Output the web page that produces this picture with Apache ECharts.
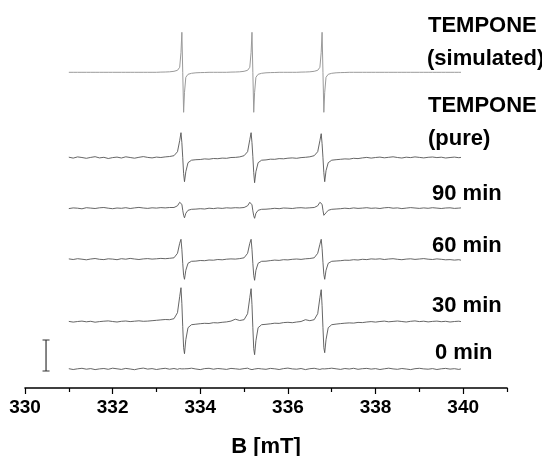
<!DOCTYPE html>
<html>
<head>
<meta charset="utf-8">
<script src="https://cdn.jsdelivr.net/npm/echarts@6/dist/echarts.min.js"></script>
<style>
html, body { margin: 0; padding: 0; background: #fff; }
#epr { width: 542px; height: 456px; }
</style>
</head>
<body>
<div id="epr"></div>
<script>
// field axis (mT), sampled densely around the three nitrogen lines
var fieldGrid = [
  331.0, 331.1, 331.2, 331.3, 331.4, 331.5, 331.6, 331.7, 331.8, 331.9,
  332.0, 332.1, 332.2, 332.3, 332.4, 332.5, 332.6, 332.7, 332.8, 332.9,
  333.0, 333.1, 333.2, 333.3,
  333.40, 333.48, 333.53, 333.56, 333.58, 333.60, 333.62, 333.64, 333.67, 333.72, 333.80,
  333.9, 334.0, 334.1, 334.2, 334.3, 334.4, 334.5, 334.6, 334.7, 334.8, 334.9,
  335.00, 335.08, 335.13, 335.16, 335.18, 335.20, 335.22, 335.24, 335.27, 335.32, 335.40,
  335.5, 335.6, 335.7, 335.8, 335.9, 336.0, 336.1, 336.2, 336.3, 336.4, 336.5,
  336.60, 336.68, 336.73, 336.76, 336.78, 336.80, 336.82, 336.84, 336.87, 336.92, 337.00,
  337.1, 337.2, 337.3, 337.4, 337.5, 337.6, 337.7, 337.8, 337.9, 338.0,
  338.1, 338.2, 338.3, 338.4, 338.5, 338.6, 338.7, 338.8, 338.9, 339.0,
  339.1, 339.2, 339.3, 339.4, 339.5, 339.6, 339.7, 339.8, 339.9, 339.95
];

var majorTicks = [330, 332, 334, 336, 338, 340];
var minorTicks = [331, 333, 335, 337, 339, 341];

var traceNames = ['TEMPONE (simulated)', 'TEMPONE (pure)', '90 min', '60 min', '30 min', '0 min'];
// vertical offset of each spectrum (arbitrary units)
var baselines = [315.7, 230.3, 179.7, 128.7, 66.3, 19];

var simulated = [
  0, 0, 0, 0, 0, 0, 0, 0, 0, 0, 0, 0, 0, 0, 0, 0, 0, 0, 0, 0, 0, 0.2, 0.3, 0.5,
  1, 2, 5, 20, 40, 0, -40, -20, -5, -2, -1,
  -0.5, -0.3, -0.2, 0, 0, 0, 0, 0, 0.2, 0.3, 0.5,
  1, 2, 5, 20, 40, 0, -40, -20, -5, -2, -1,
  -0.5, -0.3, -0.2, 0, 0, 0, 0, 0, 0.2, 0.3, 0.5,
  1, 2, 5, 20, 40, 0, -40, -20, -5, -2, -1,
  -0.5, -0.3, -0.2, 0, 0, 0, 0, 0, 0, 0,
  0, 0, 0, 0, 0, 0, 0, 0, 0, 0,
  0, 0, 0, 0, 0, 0, 0, 0, 0, 0
];

var pure = [
  0.5, -0.4, 0.8, 0.2, -0.6, 0.3, 1.0, -0.2, 0.4, -0.8, 0.1, 0.6, -0.3, 0.9, 0.2, -0.5, 0.4, 1.1, 0.3, -0.2, 0.6, 0.2, 0.8, 1.2,
  2, 6, 17, 25, 15, 0, -16, -24, -14, -5, -2.5,
  -2, -1.8, -1.2, -1.5, -0.8, -1.0, -0.4, -0.6, 0.2, 0.3, 0.8,
  2, 6, 18, 25, 15, 1, -15, -25, -14, -5, -2.5,
  -2.2, -1.5, -1.6, -0.9, -1.1, -0.5, -0.2, -0.6, 0.1, 0.4, 0.9,
  2, 6, 17, 24, 14, 0, -15, -24, -13, -5, -2.5,
  -2, -1.6, -1.2, -1.4, -0.6, -0.9, -0.2, 0.3, -0.4, 0.2,
  0.6, -0.1, 0.4, 0.9, 0.2, -0.3, 0.5, 0.1, 0.8, 0.3,
  -0.2, 0.4, 0.7, 0.1, 0.5, -0.3, 0.2, 0.6, 0.0, 0.3
];

var min90 = [
  -0.3, 0.4, 0.1, -0.5, 0.6, 0.2, -0.2, 0.5, 0.8, 0.1, -0.4, 0.3, 0.0, 0.6, -0.2, 0.4, 0.9, 0.3, -0.1, 0.5, 0.2, 0.7, 0.4, 0.8,
  0.8, 2.5, 6, 8, 4, -2, -7, -9.5, -5, -2, -1,
  -0.8, -0.4, -0.7, 0.1, -0.3, 0.3, -0.1, 0.5, 0.2, 0.6, 0.4,
  0.8, 2.5, 6, 7.5, 3.5, -2.5, -7.5, -10, -5, -2, -1,
  -0.9, -0.5, 0.0, -0.4, 0.3, 0.1, -0.2, 0.4, 0.6, 0.2, 0.5,
  0.8, 2.5, 6, 8, 4, -2, -7, -9, -4.5, -2, -1,
  -0.7, -0.4, 0.1, -0.3, 0.4, -0.1, 0.2, 0.6, 0.0, 0.3,
  -0.2, 0.5, 0.8, 0.1, 0.4, -0.3, 0.2, 0.7, 0.3, -0.1,
  0.4, 0.0, 0.6, 0.2, -0.2, 0.3, 0.5, -0.1, 0.2, 0.4
];

var min60 = [
  0.4, -0.2, 0.6, 0.1, -0.5, 0.3, 0.8, 0.0, -0.3, 0.5, 0.2, -0.4, 0.6, 0.1, 0.9, 0.3, -0.2, 0.4, 0.7, 0.2, 0.5, 0.9, 0.6, 1.0,
  1.5, 6, 16, 20, 10, -4, -16, -20, -11, -4, -2,
  -1.8, -1.2, -1.4, -0.7, -0.9, -0.2, -0.5, 0.1, 0.4, 0.2, 0.7,
  1.5, 6, 16, 20, 10, -4, -16, -21, -11, -4, -2,
  -1.9, -1.3, -0.8, -1.1, -0.4, -0.6, 0.0, 0.3, -0.1, 0.5, 0.8,
  1.5, 6, 15, 20, 11, -3, -15, -20, -11, -4, -2,
  -1.7, -1.4, -0.9, -1.0, -0.4, -0.7, 0.0, -0.3, 0.4, 0.1,
  0.5, -0.2, 0.3, 0.6, 0.0, -0.4, 0.2, 0.5, -0.1, 0.3,
  0.7, 0.1, -0.2, 0.4, 0.0, -0.5, -0.3, -0.8, -0.4, -0.9
];

var min30 = [
  0.3, -0.4, 0.2, 0.6, -0.1, 0.4, -0.5, 0.1, 0.5, 0.8, 0.2, -0.3, 0.4, 0.7, 0.1, 0.5, 0.9, 0.4, 0.6, 1.0, 1.4, 1.8, 2.2, 2.0,
  3, 9, 25, 34, 18, -5, -26, -32, -18, -6, -3,
  -2.5, -2, -1.6, -1.8, -1.0, -1.2, -0.6, -0.2, 0.6, 2.5, 1.2,
  2, 8, 24, 33, 17, -6, -27, -33, -19, -6, -3,
  -2.6, -2.1, -1.5, -1.7, -0.9, -0.6, -1.0, -0.3, 0.2, 2.0, 1.0,
  2, 8, 24, 32, 16, -6, -26, -31, -18, -6, -3,
  -2.4, -1.9, -1.5, -1.2, -1.4, -0.7, -0.9, -0.3, 0.1, -0.4,
  0.2, 0.6, -0.1, 0.3, 0.7, 0.2, -0.3, 0.4, 0.8, 0.1,
  0.5, -0.2, 0.3, 0.6, 0.0, 0.4, -0.3, 0.2, 0.5, 0.1
];

var min0 = [
  0.3, -0.5, 0.2, 0.7, -0.2, 0.4, -0.6, 0.1, 0.5, -0.3, 0.8, 0.2, -0.4, 0.6, 0.0, -0.7, 0.3, 0.9, -0.1, 0.4, -0.5, 0.2, 0.7, -0.2,
  0.5, -0.3, 0.4, 0.9, 0.1, -0.4, 0.6, 0.2, -0.5, 0.3, 0.8,
  0.0, -0.6, 0.4, 0.7, -0.2, 0.5, 0.1, -0.4, 0.6, 0.2, -0.3,
  0.4, 0.8, -0.1, 0.3, -0.6, 0.2, 0.7, 0.0, -0.4, 0.5, 0.1,
  -0.3, 0.6, 0.2, -0.5, 0.4, 0.9, 0.1, -0.2, 0.5, -0.6, 0.3,
  0.7, 0.0, -0.4, 0.5, 0.2, -0.3, 0.6, 0.1, -0.5, 0.4, 0.8,
  0.2, -0.4, 0.5, 0.0, 0.7, -0.3, 0.3, 0.6, -0.1, 0.4,
  -0.5, 0.2, 0.8, 0.1, -0.3, 0.5, 0.0, -0.6, 0.3, 0.7,
  0.1, -0.2, 0.4, -0.5, 0.2, 0.6, -0.1, 0.3, -0.4, 0.1
];

var traces = [simulated, pure, min90, min60, min30, min0];

// intensity scale bar (I-beam) at the left
var scaleBarField = [330.40, 330.56, 330.48, 330.48, 330.40, 330.56];
var scaleBarY = [48, 48, 48, 17, 17, 17];

var labelTexts = ['TEMPONE', '(simulated)', 'TEMPONE', '(pure)', '90 min', '60 min', '30 min', '0 min'];
var labelPos = [[428, 25], [427, 58], [428, 105], [428, 138], [432, 193], [432, 245], [432, 305], [435, 352]];

var FONT = "'Liberation Sans', Arial, Helvetica, sans-serif";

var chart = echarts.init(document.getElementById('epr'));

var series = traces.map(function (vals, i) {
  return {
    name: traceNames[i],
    type: 'line',
    symbol: 'none',
    silent: true,
    lineStyle: { color: i === 0 ? '#9a9a9a' : '#555555', width: i === 0 ? 1 : 0.9 },
    data: fieldGrid.map(function (b, k) { return [b, baselines[i] + vals[k]]; })
  };
});

series.push({
  name: 'scale',
  type: 'line',
  symbol: 'none',
  silent: true,
  lineStyle: { color: '#333', width: 1.2 },
  data: scaleBarField.map(function (b, k) { return [b, scaleBarY[k]]; })
});

chart.setOption({
  animation: false,
  backgroundColor: '#fff',
  grid: [
    { left: 25, right: 35, top: 20, bottom: 68, containLabel: false, outerBoundsMode: 'none' },
    { left: 25, right: 35, top: 20, bottom: 68, containLabel: false, outerBoundsMode: 'none' }
  ],
  xAxis: [
    {
      type: 'value',
      gridIndex: 0,
      min: 330,
      max: 341,
      interval: 2,
      name: 'B [mT]',
      nameLocation: 'middle',
      nameGap: 48,
      nameTextStyle: { fontFamily: FONT, fontWeight: 'bold', fontSize: 22, color: '#000' },
      axisLine: { show: true, lineStyle: { color: '#000', width: 1.6 } },
      axisTick: { show: true, customValues: majorTicks, length: 6, inside: false, lineStyle: { color: '#000', width: 1.2 } },
      axisLabel: { customValues: majorTicks, margin: 10, fontFamily: FONT, fontWeight: 'bold', fontSize: 19, color: '#000' },
      splitLine: { show: false }
    },
    {
      type: 'value',
      gridIndex: 1,
      min: 330,
      max: 341,
      interval: 1,
      axisLine: { show: false },
      axisTick: { show: true, customValues: minorTicks, length: 4, lineStyle: { color: '#000', width: 1.2 } },
      axisLabel: { show: false },
      splitLine: { show: false }
    }
  ],
  yAxis: [
    { type: 'value', gridIndex: 0, min: 0, max: 368, show: false },
    { type: 'value', gridIndex: 1, min: 0, max: 368, show: false }
  ],
  graphic: labelTexts.map(function (t, i) {
    return {
      type: 'text',
      left: labelPos[i][0],
      top: labelPos[i][1] - 10,
      style: { text: t, fontFamily: FONT, fontWeight: 'bold', fontSize: 22, fill: '#000' }
    };
  }),
  series: series
});
</script>
</body>
</html>
